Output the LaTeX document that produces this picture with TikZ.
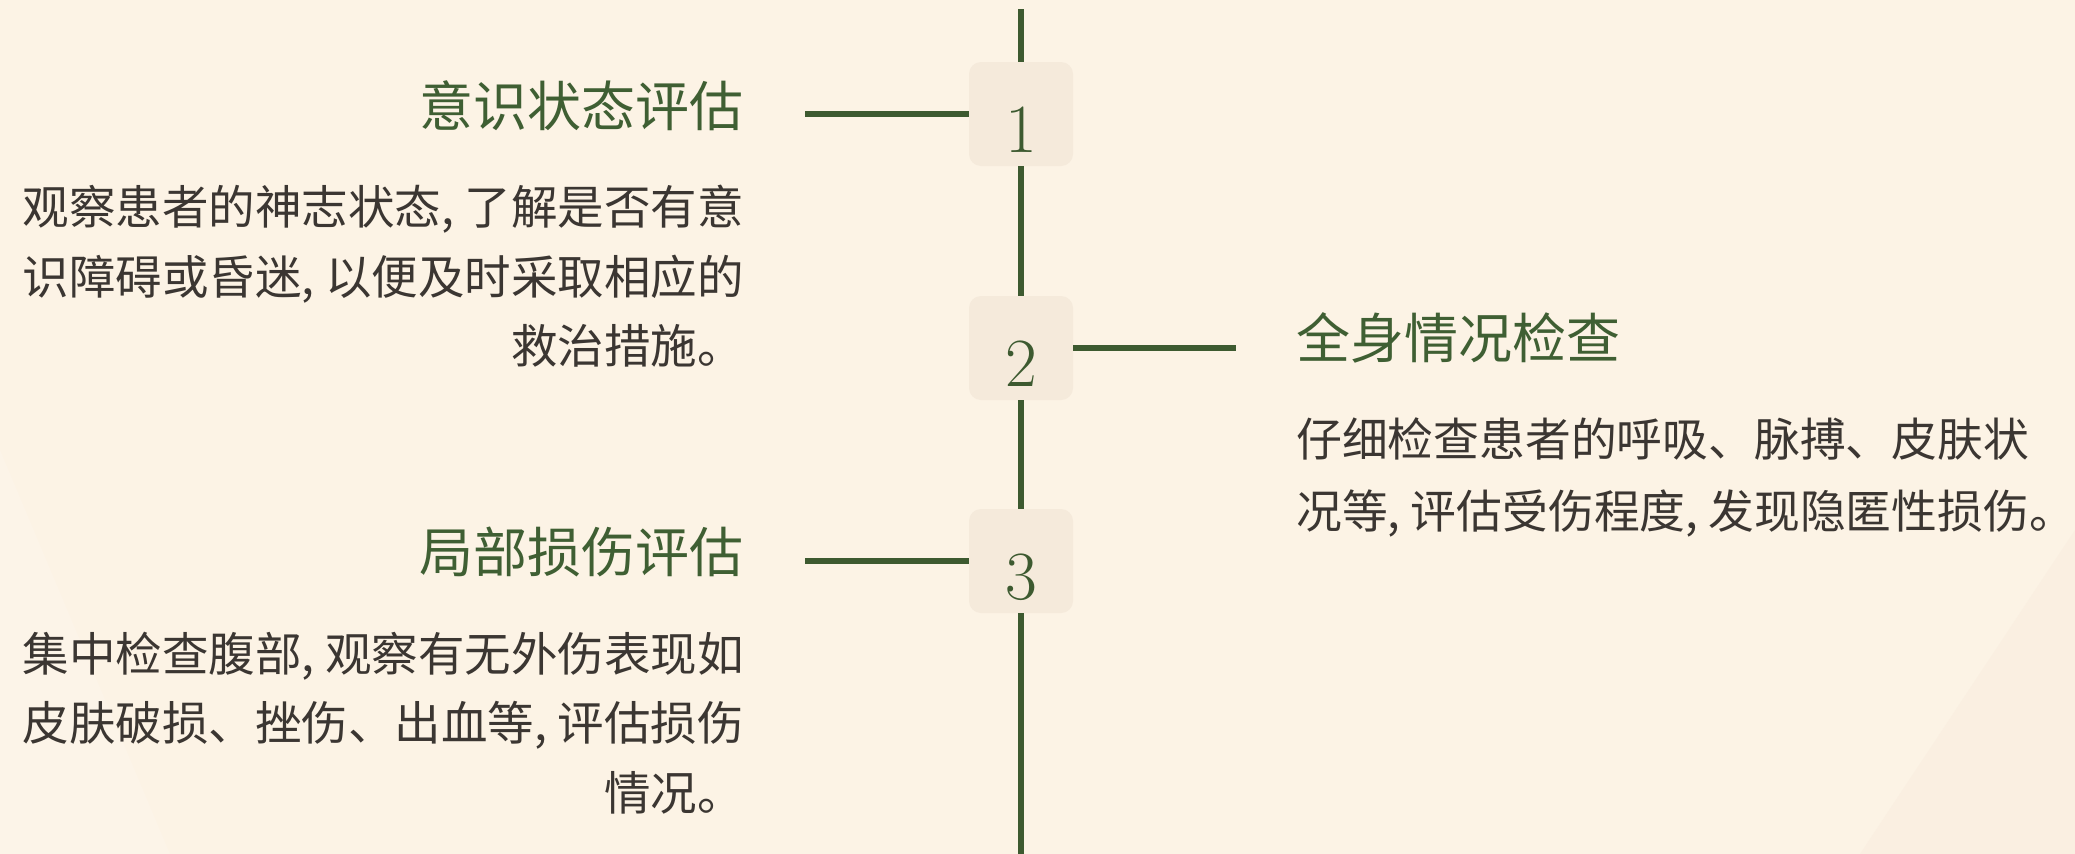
\documentclass[tikz,border=0pt]{standalone}
\usepackage{fontspec}
\usepackage{graphicx}
\newfontfamily\cjk{Noto Sans CJK SC}
\definecolor{bg}{HTML}{FCF3E5}
\definecolor{bglight}{HTML}{FCF4E8}
\definecolor{bgdark}{HTML}{FAEFE1}
\definecolor{boxfill}{HTML}{F5EADB}
\definecolor{tl}{HTML}{3D5A30}
\definecolor{head}{HTML}{3F5F33}
\definecolor{bodyc}{HTML}{3B3632}
\begin{document}
\begin{tikzpicture}[x=1pt,y=-1pt,
  numbox/.style={draw=none, fill=boxfill, rounded corners=12pt, minimum width=104pt, minimum height=104pt, inner sep=0pt},
  numtext/.style={font=\fontsize{69}{69}\selectfont, text=tl, inner sep=0pt},
  heading/.style={font=\cjk\fontsize{54}{60}\selectfont, text=head, inner sep=0pt},
  bodytext/.style={font=\cjk\fontsize{46.5}{70}\selectfont, text=bodyc, inner sep=0pt},
  bodyright/.style={font=\cjk\fontsize{45.8}{70}\selectfont, text=bodyc, inner sep=0pt},
  tline/.style={draw=tl, line width=6pt},
  conn/.style={draw=tl, line width=6pt}]
\fill[bg] (0,0) rectangle (2075,854);
\useasboundingbox (0,0) rectangle (2075,854);
% faint background decoration
\fill[bglight] (0,450) -- (170,854) -- (0,854) -- cycle;
\fill[bgdark] (2075,530) -- (1860,854) -- (2075,854) -- cycle;

% timeline coordinates and boxes
\coordinate (top) at (1021,9);
\coordinate (bot) at (1021,854);
\node[numbox] (b1) at (1021,114) {};
\node[numbox] (b2) at (1021,348) {};
\node[numbox] (b3) at (1021,561) {};
\draw[tline] (top) -- (b1.north);
\draw[tline] (b1.south) -- (b2.north);
\draw[tline] (b2.south) -- (b3.north);
\draw[tline] (b3.south) -- (bot);

\node[numtext, anchor=base] (n1) at (1021,152) {1};
\node[numtext, anchor=base] (n2) at (1021,386) {2};
\node[numtext, anchor=base] (n3) at (1021,599) {3};

% connectors
\coordinate (c1) at (805,114);
\coordinate (c2) at (1236,348);
\coordinate (c3) at (805,561);
\draw[conn] (c1) -- (b1.west);
\draw[conn] (b2.east) -- (c2);
\draw[conn] (c3) -- (b3.west);

% headings
\node[heading, anchor=base east] (h1) at (744,126) {意识状态评估};
\node[heading, anchor=base west] (h2) at (1296,358) {全身情况检查};
\node[heading, anchor=base east] (h3) at (744,572) {局部损伤评估};

% body texts
\node[bodytext, anchor=base east] (p1a) at (744,224) {观察患者的神志状态, 了解是否有意};
\node[bodytext, anchor=base east] (p1b) at (744,294) {识障碍或昏迷, 以便及时采取相应的};
\node[bodytext, anchor=base east] (p1c) at (744,363) {救治措施。};

\node[bodyright, anchor=base west] (p2a) at (1296,456) {仔细检查患者的呼吸、脉搏、皮肤状};
\node[bodyright, anchor=base west] (p2b) at (1296,528) {况等, 评估受伤程度, 发现隐匿性损伤。};

\node[bodytext, anchor=base east] (p3a) at (744,671) {集中检查腹部, 观察有无外伤表现如};
\node[bodytext, anchor=base east] (p3b) at (744,740) {皮肤破损、挫伤、出血等, 评估损伤};
\node[bodytext, anchor=base east] (p3c) at (744,810) {情况。};
\end{tikzpicture}
\end{document}
